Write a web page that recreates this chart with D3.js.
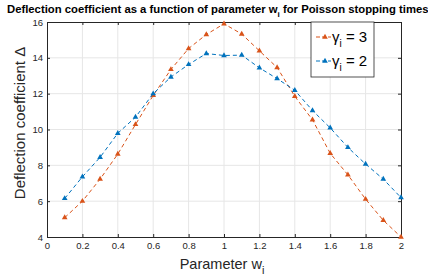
<!DOCTYPE html>
<html>
<head>
<meta charset="utf-8">
<script src="https://cdn.jsdelivr.net/npm/d3@7"></script>
<style>
  body { margin: 0; background: #fff; }
  text { font-family: "Liberation Sans", Arial, sans-serif; }
</style>
</head>
<body>
<script>
// data
const wValues = [0.1, 0.2, 0.3, 0.4, 0.5, 0.6, 0.7, 0.8, 0.9, 1.0,
                 1.1, 1.2, 1.3, 1.4, 1.5, 1.6, 1.7, 1.8, 1.9, 2.0];
const gamma3 = [5.08, 6.0, 7.23, 8.63, 10.28, 11.9, 13.35, 14.52, 15.3, 15.9,
                15.33, 14.39, 13.46, 11.85, 10.54, 8.67, 7.47, 6.11, 4.93, 4.0];
const gamma2 = [6.15, 7.36, 8.45, 9.79, 10.69, 12.0, 12.93, 13.63, 14.24, 14.13,
                14.15, 13.44, 12.84, 12.19, 11.06, 10.09, 9.0, 8.07, 7.23, 6.2];
const xTicks = [0, 0.2, 0.4, 0.6, 0.8, 1, 1.2, 1.4, 1.6, 1.8, 2];
const yTicks = [4, 6, 8, 10, 12, 14, 16];
const seriesNames = ["3", "2"];
const colors = ["#D95319", "#0072BD"];

const width = 428, height = 278;
const mLeft = 47, mRight = 401, mTop = 22, mBottom = 237;

const svg = d3.select("body").append("svg")
    .attr("width", width)
    .attr("height", height);

const x = d3.scaleLinear().domain([0, 2]).range([mLeft, mRight]);
const y = d3.scaleLinear().domain([4, 16]).range([mBottom, mTop]);

// grid
svg.append("g").selectAll("line").data(xTicks.slice(1, -1)).join("line")
    .attr("x1", d => x(d)).attr("x2", d => x(d))
    .attr("y1", mTop).attr("y2", mBottom)
    .attr("stroke", "#e6e6e6").attr("stroke-width", 1);
svg.append("g").selectAll("line").data(yTicks.slice(1, -1)).join("line")
    .attr("x1", mLeft).attr("x2", mRight)
    .attr("y1", d => y(d)).attr("y2", d => y(d))
    .attr("stroke", "#e6e6e6").attr("stroke-width", 1);

// axes (ticks inward, box on)
const fmt = d3.format("");
function styleAxis(g) {
  g.select(".domain").attr("stroke", "#262626");
  g.selectAll(".tick line").attr("stroke", "#262626");
  g.selectAll(".tick text").attr("fill", "#262626").style("font-size", "9.5px")
    .style("font-family", "'Liberation Sans', Arial, sans-serif");
}
svg.append("g").attr("transform", `translate(0,${mBottom})`)
    .call(d3.axisBottom(x).tickValues(xTicks).tickFormat(fmt).tickSizeInner(-3).tickSizeOuter(0).tickPadding(5))
    .call(styleAxis);
svg.append("g").attr("transform", `translate(${mLeft},0)`)
    .call(d3.axisLeft(y).tickValues(yTicks).tickFormat(fmt).tickSizeInner(-3).tickSizeOuter(0).tickPadding(4))
    .call(styleAxis);
svg.append("g").attr("transform", `translate(0,${mTop})`)
    .call(d3.axisTop(x).tickValues(xTicks).tickFormat("").tickSizeInner(-3).tickSizeOuter(0))
    .call(styleAxis);
svg.append("g").attr("transform", `translate(${mRight},0)`)
    .call(d3.axisRight(y).tickValues(yTicks).tickFormat("").tickSizeInner(-3).tickSizeOuter(0))
    .call(styleAxis);

// series
const tri = d3.symbol().type(d3.symbolTriangle).size(14);
[gamma3, gamma2].forEach((vals, i) => {
  const pts = wValues.map((w, j) => [w, vals[j]]);
  svg.append("path").datum(pts)
      .attr("fill", "none")
      .attr("stroke", colors[i])
      .attr("stroke-width", 1)
      .attr("stroke-dasharray", "4,3")
      .attr("d", d3.line().x(d => x(d[0])).y(d => y(d[1])));
  svg.append("g").selectAll("path").data(pts).join("path")
      .attr("transform", d => `translate(${x(d[0])},${y(d[1])})`)
      .attr("d", tri)
      .attr("fill", colors[i]);
});

// title
const title = svg.append("text")
    .attr("x", 7).attr("y", 13)
    .style("font-size", "11.3px").style("font-weight", "bold").attr("fill", "#000");
title.append("tspan").text("Deflection coefficient as a function of parameter w");
title.append("tspan").attr("dy", 3.5).style("font-size", "8px").text("i");
title.append("tspan").attr("dy", -3.5).text(" for Poisson stopping times");

// axis labels
const xl = svg.append("text")
    .attr("x", 222).attr("y", 269)
    .attr("text-anchor", "middle")
    .style("font-size", "14.5px").attr("fill", "#262626");
xl.append("tspan").text("Parameter w");
xl.append("tspan").attr("dy", 5).style("font-size", "11px").text("i");

svg.append("text")
    .attr("transform", "translate(25,123) rotate(-90)")
    .attr("text-anchor", "middle")
    .style("font-size", "15px").attr("fill", "#262626")
    .text("Deflection coefficient \u0394");

// legend
const lg = svg.append("g").attr("transform", "translate(311,22)");
lg.append("rect").attr("width", 63).attr("height", 55)
    .attr("fill", "#fff").attr("stroke", "#262626").attr("stroke-width", 0.8);
seriesNames.forEach((s, i) => {
  const yy = 15 + i * 24;
  lg.append("line").attr("x1", 5).attr("x2", 20).attr("y1", yy).attr("y2", yy)
      .attr("stroke", colors[i]).attr("stroke-dasharray", "4,2");
  lg.append("path").attr("transform", `translate(14,${yy})`).attr("d", tri).attr("fill", colors[i]);
  const t = lg.append("text").attr("x", 21).attr("y", yy + 5)
      .style("font-size", "15px").attr("fill", "#000");
  t.append("tspan").text("\u03b3");
  t.append("tspan").attr("dy", 5).style("font-size", "10px").text("i");
  t.append("tspan").attr("dy", -5).text(" = " + s);
});
</script>
</body>
</html>
